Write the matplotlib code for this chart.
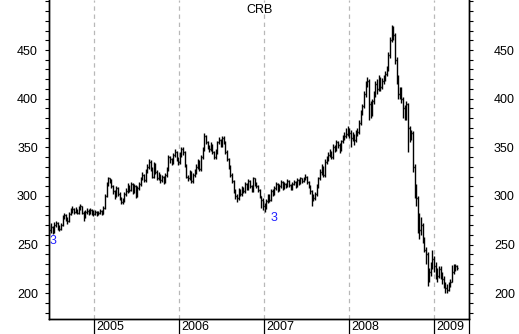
import matplotlib
matplotlib.use("Agg")
import matplotlib.pyplot as plt
import matplotlib.dates as mdates
from matplotlib.ticker import MultipleLocator
import numpy as np
import pandas as pd

plt.rcParams['font.family'] = ['Liberation Sans', 'DejaVu Sans']

# ---- weekly CRB bars ----
start_date = "2004-06-25"

close_2004 = [265, 268, 263, 270, 272, 268, 266, 270, 278, 280, 276, 274, 282, 285, 287, 284, 286, 283, 288, 290, 283, 278, 284, 285, 283, 286, 284]
high_2004 = [270, 272, 269, 273, 274, 273, 270, 272, 280, 283, 281, 278, 284, 288, 290, 288, 289, 287, 290, 292, 290, 285, 286, 288, 287, 288, 287]
low_2004 = [260, 262, 261, 262, 268, 265, 264, 265, 269, 276, 274, 271, 273, 280, 283, 281, 283, 281, 282, 286, 281, 274, 277, 281, 280, 282, 280]

close_2005 = [282, 284, 281, 283, 285, 282, 288, 300, 312, 318, 316, 310, 305, 300, 308, 302, 298, 294, 296, 302, 305, 310, 306, 312, 304, 310, 300, 308, 312, 318, 322, 316, 326, 330, 335, 328, 320, 332, 325, 318, 322, 316, 320, 315, 322, 328, 340, 338, 335, 342, 345, 338]
high_2005 = [286, 286, 285, 285, 287, 286, 290, 302, 314, 320, 319, 317, 311, 306, 310, 309, 304, 299, 298, 304, 308, 313, 311, 314, 313, 312, 311, 310, 314, 320, 325, 323, 328, 333, 338, 337, 330, 335, 334, 327, 325, 323, 322, 321, 324, 330, 342, 341, 339, 344, 348, 346]
low_2005 = [279, 280, 279, 280, 282, 280, 281, 287, 299, 310, 313, 308, 302, 297, 299, 300, 296, 292, 292, 294, 300, 303, 304, 305, 302, 303, 298, 299, 306, 310, 316, 314, 314, 324, 328, 326, 318, 318, 323, 316, 316, 313, 314, 312, 313, 320, 326, 334, 332, 333, 340, 336]

close_2006 = [335, 342, 348, 345, 332, 320, 318, 325, 315, 322, 325, 330, 335, 328, 340, 348, 362, 355, 350, 348, 352, 345, 340, 345, 355, 358, 352, 360, 355, 345, 338, 330, 322, 315, 305, 300, 298, 306, 302, 308, 305, 312, 308, 315, 310, 306, 318, 312, 310, 306, 300, 296]
high_2006 = [340, 345, 350, 350, 346, 333, 322, 327, 326, 324, 328, 333, 338, 337, 342, 350, 365, 363, 357, 352, 355, 353, 346, 348, 357, 361, 359, 362, 362, 356, 347, 339, 332, 324, 316, 307, 302, 308, 307, 310, 309, 314, 313, 317, 316, 311, 320, 319, 314, 311, 307, 300]
low_2006 = [332, 333, 340, 342, 330, 318, 315, 316, 313, 313, 320, 323, 328, 326, 326, 338, 346, 353, 348, 345, 346, 343, 338, 338, 343, 353, 350, 350, 353, 343, 336, 328, 320, 313, 303, 297, 294, 296, 300, 300, 303, 303, 306, 306, 308, 304, 304, 310, 308, 304, 298, 288]

close_2007 = [290, 288, 295, 300, 296, 305, 302, 308, 312, 306, 310, 314, 308, 312, 310, 315, 311, 308, 312, 314, 310, 316, 313, 318, 315, 318, 320, 314, 310, 305, 300, 298, 302, 310, 318, 325, 330, 322, 335, 338, 342, 345, 340, 350, 348, 355, 352, 348, 356, 360, 362, 364]
high_2007 = [298, 293, 297, 302, 302, 307, 307, 310, 314, 313, 312, 316, 315, 314, 313, 317, 316, 312, 314, 316, 315, 318, 317, 320, 319, 320, 323, 321, 315, 311, 306, 302, 304, 312, 320, 328, 333, 331, 338, 341, 345, 348, 346, 353, 352, 358, 357, 354, 358, 363, 366, 370]
low_2007 = [286, 284, 287, 293, 294, 295, 300, 301, 306, 304, 305, 308, 306, 307, 308, 309, 309, 306, 306, 311, 308, 309, 311, 312, 313, 314, 316, 312, 308, 302, 290, 295, 296, 300, 308, 316, 322, 320, 320, 333, 336, 340, 338, 338, 345, 346, 349, 344, 346, 354, 358, 360]

close_2008 = [368, 365, 360, 362, 358, 365, 366, 375, 385, 392, 405, 415, 418, 395, 385, 398, 405, 415, 410, 420, 412, 418, 420, 425, 430, 445, 460, 472, 465, 440, 420, 405, 410, 400, 390, 382, 395, 370, 360, 365, 330, 310, 298, 280, 265, 270, 255, 245, 240, 215, 222, 228]
high_2008 = [372, 370, 368, 366, 364, 368, 370, 378, 388, 395, 408, 418, 422, 420, 398, 400, 408, 418, 420, 424, 422, 421, 424, 428, 434, 448, 463, 476, 475, 468, 443, 424, 412, 412, 402, 393, 398, 396, 372, 368, 367, 333, 312, 300, 283, 278, 272, 258, 248, 242, 226, 232]
low_2008 = [362, 360, 350, 356, 352, 355, 362, 364, 373, 383, 390, 402, 412, 378, 380, 382, 395, 402, 405, 408, 408, 410, 415, 418, 423, 428, 442, 458, 460, 436, 415, 400, 400, 396, 380, 378, 378, 345, 355, 358, 325, 298, 290, 262, 256, 260, 252, 242, 230, 208, 212, 218]

close_2009 = [235, 228, 222, 218, 225, 220, 215, 210, 205, 203, 208, 212, 222, 226, 228, 226]
high_2009 = [245, 238, 232, 226, 228, 228, 222, 218, 212, 210, 212, 215, 229, 230, 230, 229]
low_2009 = [225, 222, 215, 212, 216, 215, 210, 205, 200, 200, 202, 206, 212, 220, 223, 224]

year_labels = ["2005", "2006", "2007", "2008", "2009"]
y_ticks = [200, 250, 300, 350, 400, 450]
title = "CRB"
wave_labels = [("3", "2004-06-25", 254), ("3", "2007-01-30", 277)]

# ---- assemble ----
closes = np.array(close_2004 + close_2005 + close_2006 + close_2007 + close_2008 + close_2009, float)
highs = np.array(high_2004 + high_2005 + high_2006 + high_2007 + high_2008 + high_2009, float)
lows = np.array(low_2004 + low_2005 + low_2006 + low_2007 + low_2008 + low_2009, float)
n = min(len(closes), len(highs), len(lows))
closes, highs, lows = closes[:n], highs[:n], lows[:n]
opens = np.concatenate([[closes[0]], closes[:-1]])
dates = pd.date_range(start_date, periods=n, freq="7D")
x = mdates.date2num(dates.to_pydatetime())
highs = np.maximum.reduce([highs, opens, closes])
lows = np.minimum.reduce([lows, opens, closes])

W, H = 519, 334
fig = plt.figure(figsize=(W / 100, H / 100), dpi=100)
ax = fig.add_axes([49 / W, 15 / H, 420 / W, 319 / H])

xmin = mdates.date2num(pd.Timestamp("2004-06-23").to_pydatetime())
xmax = mdates.date2num(pd.Timestamp("2009-06-01").to_pydatetime())
ax.set_xlim(xmin, xmax)
ax.set_ylim(173.6, 501.4)

year_pos = [mdates.date2num(pd.Timestamp(f"{y}-01-01").to_pydatetime()) for y in year_labels]
for xp in year_pos:
    ax.axvline(xp, color="#b8b8b8", lw=0.9, ls=(0, (3.5, 3)), zorder=1)

half = 3.5
ax.vlines(x, lows, highs, color="black", lw=1.0, zorder=3)
ax.hlines(opens, x - half, x, color="black", lw=1.0, zorder=3)
ax.hlines(closes, x, x + half, color="black", lw=1.0, zorder=3)

# y axis
ax.set_yticks(y_ticks)
ax.yaxis.set_minor_locator(MultipleLocator(10))
ax.tick_params(axis="y", which="both", direction="out", length=3, width=0.8,
               left=True, right=True, labelleft=True, labelright=False,
               labelsize=9, pad=5)
ax2 = ax.twinx()
ax2.set_ylim(ax.get_ylim())
ax2.set_yticks(y_ticks)
ax2.yaxis.set_minor_locator(MultipleLocator(10))
ax2.tick_params(axis="y", which="both", direction="out", length=3, width=0.8,
                labelsize=9, pad=15)
for a in (ax, ax2):
    a.spines["top"].set_visible(False)
    for s in ("left", "right", "bottom"):
        a.spines[s].set_linewidth(1.0)

# x axis
ax.set_xticks(year_pos + [xmax])
ax.set_xticklabels([])
ax.tick_params(axis="x", which="major", direction="out", length=11, width=0.9)
for xp, lab in zip(year_pos, year_labels):
    ax.annotate(lab, xy=(xp, 0), xycoords=("data", "axes fraction"),
                xytext=(1.6, -6), textcoords="offset points",
                ha="left", va="center", fontsize=9, annotation_clip=False)

for txt, d, v in wave_labels:
    ax.text(mdates.date2num(pd.Timestamp(d).to_pydatetime()), v, txt,
            color="#2020ff", fontsize=9, ha="left", va="center", zorder=4)

fig.text(260 / W, 1 - 10 / H, title, ha="center", va="center", fontsize=9)

fig.savefig("out.png", dpi=100)
